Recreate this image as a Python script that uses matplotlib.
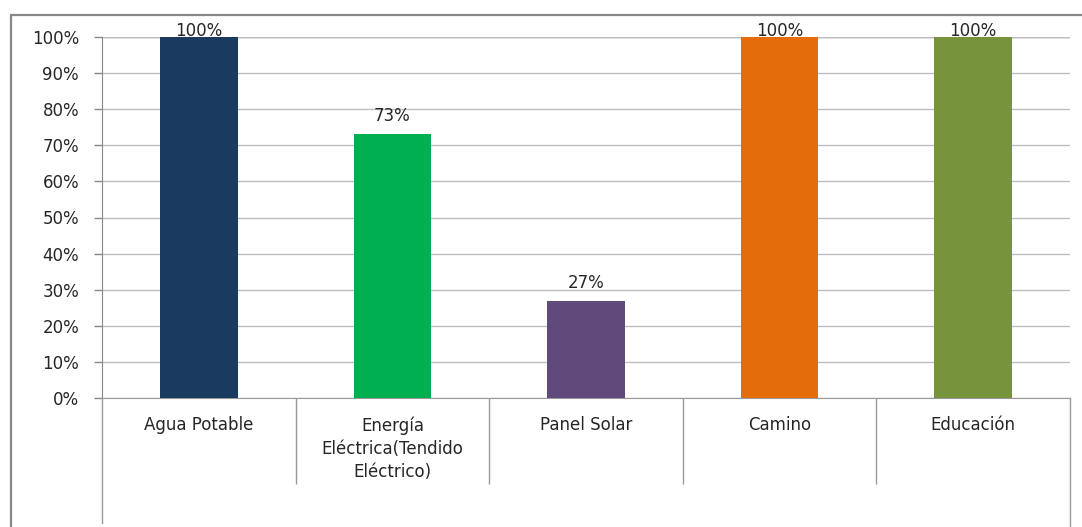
import matplotlib
matplotlib.use("Agg")
import matplotlib.pyplot as plt
from matplotlib.lines import Line2D
from matplotlib.patches import Rectangle
from matplotlib.ticker import FuncFormatter

categories = ["Agua Potable", "Energía\nEléctrica(Tendido\nEléctrico)", "Panel Solar", "Camino", "Educación"]
values = [100, 73, 27, 100, 100]
labels = ["100%", "73%", "27%", "100%", "100%"]
colors = ["#1B3A5F", "#00B050", "#604A7B", "#E46C0A", "#77933C"]

plt.rcParams['font.family'] = ['DejaVu Sans']

W, H = 1082, 527
fig = plt.figure(figsize=(W / 100, H / 100), dpi=100)
x0, x1, ytop, ybot = 102, 1070, 37, 398
ax = fig.add_axes([x0 / W, 1 - ybot / H, (x1 - x0) / W, (ybot - ytop) / H])

FS = 12
TC = '#262626'
xs = list(range(len(categories)))
ax.bar(xs, values, width=0.40, color=colors, zorder=3)
for x, v, t in zip(xs, values, labels):
    ax.text(x, min(v + 3.6, 100.3), t, ha='center', va='baseline', fontsize=FS, color=TC, zorder=4)

ax.set_xlim(-0.5, len(categories) - 0.5)
ax.set_ylim(0, 100)
ax.set_yticks(range(0, 101, 10))
ax.yaxis.set_major_formatter(FuncFormatter(lambda v, p: f"{int(v)}%"))
ax.grid(axis='y', color='#BEBEBE', linewidth=1.0, zorder=0)
ax.tick_params(axis='y', length=5.5, width=1.0, color='#888888', labelsize=FS, labelcolor=TC, pad=11)

ax.set_xticks(xs)
ax.set_xticklabels(categories, fontsize=FS, color=TC, linespacing=1.38)
ax.tick_params(axis='x', which='major', length=0, pad=13)
ax.set_xticks([i + 0.5 for i in range(len(categories) - 1)], minor=True)
ax.tick_params(axis='x', which='minor', length=62, width=1.0, color='#999999')

for s in ['top', 'right']:
    ax.spines[s].set_visible(False)
ax.spines['left'].set_color('#888888')
ax.spines['bottom'].set_color('#999999')
ax.spines['left'].set_zorder(5)

# extended left axis line and right frame line below plot
fig.add_artist(Line2D([x0 / W, x0 / W], [1 - ybot / H, 1 - 523 / H], color='#999999', lw=1.0))
fig.add_artist(Line2D([x1 / W, x1 / W], [1 - ybot / H, 0], color='#999999', lw=1.0))
# top gridline darker
ax.axhline(100, color='#888888', lw=1.0, zorder=1)

# outer chart border
fig.add_artist(Rectangle((11 / W, -0.1), 1.2, (1 - 15 / H) + 0.1, fill=False,
                         edgecolor='#888888', lw=1.6, transform=fig.transFigure))

fig.savefig("out.png", dpi=100)
